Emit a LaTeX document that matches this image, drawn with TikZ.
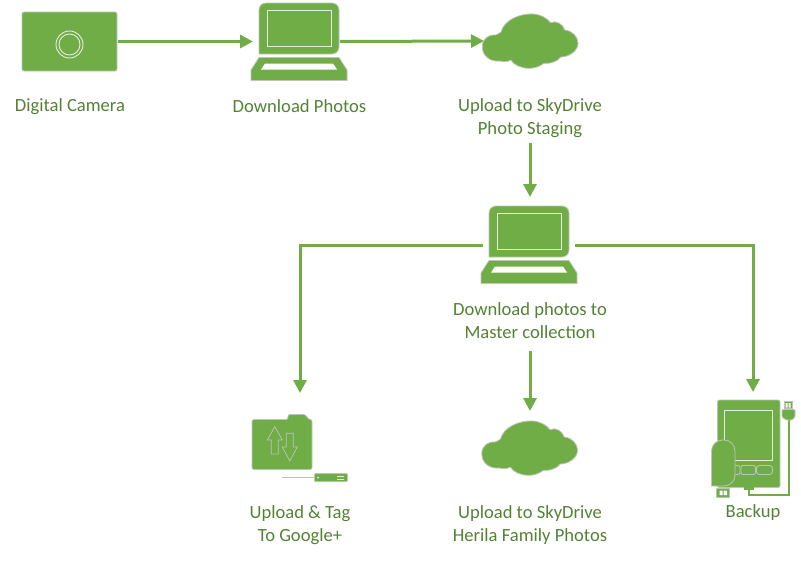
\documentclass[tikz,border=0pt]{standalone}
\usepackage{fontspec}
\setmainfont{Carlito}
\usepackage{tikz}
\usetikzlibrary{arrows.meta,positioning}

\definecolor{leaf}{HTML}{70AD47}
\definecolor{leafText}{HTML}{548235}
\definecolor{edge}{HTML}{BDC4B8}
\definecolor{glass}{HTML}{E4EBDF}

\tikzset{
  flow/.style={draw=leaf,line width=3pt,-{Triangle[length=13pt,width=13pt]}},
  caption/.style={text=leafText,align=center,inner sep=0pt,
    font=\fontsize{18.6}{23}\selectfont},
  icon/.style={inner sep=0pt,outer sep=0pt},
  shell/.style={fill=leaf,draw=edge,line width=0.8pt},
  trim/.style={draw=glass,line width=0.9pt}
}

\newcommand{\laptopIcon}[2]{
  \begin{scope}[shift={(#1,#2)}]
    \draw [shell,rounded corners=7pt] (-40,51) -- (-40,0) -- (40,0) -- (40,51) [sharp corners] -- cycle;
    \draw [trim,line width=1pt] (-32,7.5) rectangle (32,43);
    \draw [shell] (-40,54.5) -- (40,54.5) -- (48,67) -- (48,77.5) -- (-48,77.5) -- (-48,67) -- cycle;
    \fill [white] (-34,60.5) -- (34,60.5) -- (38,66.5) -- (-38,66.5) -- cycle;
  \end{scope}
}

\newcommand{\cloudIcon}[2]{
  \begin{scope}[shift={(#1,#2)}]
    \draw [shell] (-47.7,5.7)
      .. controls (-47.7,-2) and (-42,-6.5) .. (-34.3,-6)
      .. controls (-33,-6.5) and (-31,-7.5) .. (-29,-9)
      .. controls (-26,-21) and (-10,-27.5) .. (2.3,-27)
      .. controls (10,-27) and (17,-23) .. (20.7,-18.3)
      .. controls (26,-21) and (33,-17) .. (34.7,-11)
      .. controls (43,-10) and (48,-4) .. (48,2.3)
      .. controls (48,10) and (39,16) .. (30.7,16)
      .. controls (28,19) and (26,20.5) .. (24,20.7)
      .. controls (21,22.3) and (17,22.5) .. (14,22.3)
      .. controls (9,26) and (4,27.3) .. (-1,27.3)
      .. controls (-9,27.3) and (-16,24) .. (-19.3,19)
      .. controls (-22,21) and (-27,21) .. (-30,20)
      .. controls (-40,21) and (-47.7,15) .. (-47.7,5.7) -- cycle;
  \end{scope}
}

\begin{document}
\begin{tikzpicture}[x=1pt,y=-1pt]

  \useasboundingbox (0,0) rectangle (801,562);

  % top row
  \node (camera) [icon,shell,rounded corners=2pt,minimum width=95pt,minimum height=59pt] at (69.5,41.5) {};
  \draw [trim] (69.5,44.5) circle (13.5pt);
  \draw [trim] (69.5,44.5) circle (10.5pt);
  \node (cameraText) [caption] at (70,106.2) {Digital Camera};

  \laptopIcon{299}{3}
  \node (laptop) [icon,minimum width=87pt,minimum height=77pt] at (296.5,41.5) {};
  \node (laptopText) [caption] at (299.5,106) {Download Photos};

  \cloudIcon{530}{41}
  \node (staging) [icon,minimum width=92pt,minimum height=54pt] at (530,41) {};
  \node (stagingText) [caption,minimum height=50.6pt] at (530,117.7) {Upload to SkyDrive\\ Photo Staging};

  % master copy
  \laptopIcon{529}{206}
  \node (master) [icon,minimum width=92pt,minimum height=96pt] at (529,245) {};
  \node (masterText) [caption,minimum height=60.6pt] at (530,320.7) {Download photos to\\ Master collection};

  % bottom row
  \draw [shell,rounded corners=2pt] (252,419.5) -- (288,419.5) -- (288,414.5) -- (306,414.5) -- (308,419.5) -- (312,419.5) -- (312,469.5) -- (252,469.5) -- cycle;
  \draw [edge,line width=0.7pt] (274.8,426.7) -- (282.3,440) -- (278.3,440) -- (278.3,454) -- (271.3,454) -- (271.3,440) -- (267.3,440) -- cycle;
  \draw [edge,line width=0.7pt] (289.8,461) -- (297.3,447) -- (293.3,447) -- (293.3,433.3) -- (286.3,433.3) -- (286.3,447) -- (282.3,447) -- cycle;
  \draw [edge,line width=0.8pt] (282,477.7) -- (314,477.7);
  \draw [shell,rounded corners=1pt] (314.5,473.5) rectangle (347.5,481.7);
  \fill [glass] (318,477.7) circle (1pt);
  \draw [glass,line width=0.7pt] (337,476) -- (344,476) (337,479.3) -- (344,479.3);
  \node (google) [icon,minimum width=60pt,minimum height=90pt] at (300,438) {};
  \node (googleText) [caption] at (300,524.7) {Upload \& Tag\\ To Google+};

  \cloudIcon{529.5}{448}
  \node (family) [icon,minimum width=92pt,minimum height=74pt] at (530,448) {};
  \node (familyText) [caption] at (530,524.7) {Upload to SkyDrive\\ Herila Family Photos};

  \draw [shell,rounded corners=2pt] (717.5,400) rectangle (780,487.5);
  \draw [trim,line width=1pt] (724.5,410) rectangle (772.5,460);
  \draw [edge,line width=0.9pt,rounded corners=2pt] (733,465.5) rectangle (740,474.5);
  \draw [edge,line width=0.9pt,rounded corners=2pt] (741,465.5) rectangle (755.5,474.5);
  \draw [edge,line width=0.9pt,rounded corners=3pt] (756.5,465.5) rectangle (772.5,474.5);
  \draw [shell,rounded corners=11pt] (711.5,486) -- (711.5,440) -- (735,440) -- (735,486) [sharp corners] -- cycle;
  \draw [shell] (716.5,488.5) rectangle (729.5,497);
  \fill [white] (719.5,490.5) rectangle (722.5,495) (723.5,490.5) rectangle (727,495);
  \fill [leaf] (743.5,485) rectangle (754,489.5);
  \draw [leaf,line width=2pt] (748.5,488) -- (748.5,495) -- (789,495) -- (789,420);
  \draw [shell,rounded corners=1pt] (782,409.5) -- (795,409.5) -- (795,417) -- (792,420) -- (786,420) -- (782,417) -- cycle;
  \draw [shell] (784,401.5) rectangle (792,408.5);
  \fill [white] (785.5,403) rectangle (787.5,407.5) (788.5,403) rectangle (790.5,407.5);
  \node (backup) [icon,minimum width=60pt,minimum height=96pt] at (753,440) {};
  \node (backupText) [caption] at (753,513) {Backup};

  % arrows
  \draw [flow] (camera.east) ++(1,0) -- (laptop.west);
  \draw [flow] (laptop.east) -- (staging.west);
  \draw [flow] (stagingText.south) -- (master.north -| stagingText.south);
  \draw [flow] (masterText.south) -- (family.north);
  \draw [flow] (master.west) -| (google.north);
  \draw [flow] (master.east) -| (backup.north);

\end{tikzpicture}
\end{document}
